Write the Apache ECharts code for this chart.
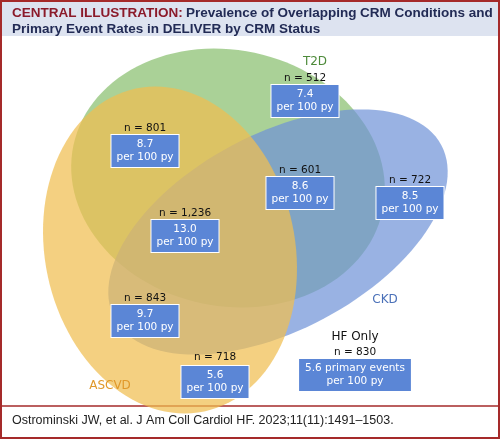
<!DOCTYPE html><html><head><meta charset="utf-8"><script src="https://cdn.jsdelivr.net/npm/echarts@6/dist/echarts.min.js"></script>
<style>body{margin:0}#c{width:500px;height:439px}</style></head><body><div id="c"></div><script>
// Sets: [cx, cy, rx, ry, rotationDeg]
const setNames=['T2D','CKD','ASCVD'];
const setShapes=[[228,178,158,128,12],[278,232,185,98,-28],[170,250,125,165,-12]];
const setColors=['rgba(125,185,95,0.65)','rgba(110,145,215,0.7)','rgba(240,190,80,0.72)'];
const regionCounts=['n = 512','n = 801','n = 601','n = 722','n = 1,236','n = 843','n = 830','n = 718'];
const regionRates=['7.4','8.7','8.6','8.5','13.0','9.7','5.6 primary events','5.6'];
const regionPos=[[305,78],[145,128],[300,170],[410,180],[185,213],[145,298],[355,352],[215,357]];
const setLabelPos=[[315,62],[385,300],[110,386]];
const setLabelColors=['#4d8a3a','#4a70b8','#e0982a'];

const ell=setShapes.map((s,i)=>({value:s,itemStyle:{color:setColors[i]}}));
const counts=regionPos.map((p,i)=>({value:p,label:{formatter:regionCounts[i]}}));
const rates=regionPos.map((p,i)=>({value:[p[0],p[1]+23],label:{formatter:regionRates[i]+'\nper 100 py',padding:i==6?[3,6]:[3,5]}}));
rates[7].value[1]=382;
const chart=echarts.init(document.getElementById('c'));
chart.setOption({
animation:false,
grid:{left:0,right:0,top:0,bottom:0},
xAxis:{type:'value',min:0,max:500,show:false},
yAxis:{type:'value',min:0,max:439,inverse:true,show:false},
graphic:[
{type:'rect',shape:{x:1,y:1,width:498,height:437},style:{fill:'#fff',stroke:'#a52a2a',lineWidth:2},z:-10},
{type:'rect',shape:{x:2,y:2,width:496,height:34},style:{fill:'#dde3f0'},z:-9},
{type:'text',left:12,top:5,style:{rich:{a:{fill:'#8b1a2a',fontWeight:'bold',fontSize:13.5,fontFamily:'Liberation Sans'},b:{fill:'#222b55',fontWeight:'bold',fontSize:13.5,fontFamily:'Liberation Sans'}},text:'{a|CENTRAL ILLUSTRATION:} {b|Prevalence of Overlapping CRM Conditions and}\n{b|Primary Event Rates in DELIVER by CRM Status}',lineHeight:16},z:10},
{type:'line',shape:{x1:2,y1:406,x2:498,y2:406},style:{stroke:'#a52a2a',lineWidth:1.5}},
{type:'text',left:12,top:414,style:{text:'Ostrominski JW, et al. J Am Coll Cardiol HF. 2023;11(11):1491–1503.',fill:'#222',fontSize:12.5,fontFamily:'Liberation Sans'}}
],
series:[
{type:'custom',data:ell,z:1,renderItem:(p,api)=>{const cx=api.value(0),cy=api.value(1),rx=api.value(2),ry=api.value(3),r=api.value(4)*Math.PI/180;const pts=[];for(let k=0;k<120;k++){const t=k/120*2*Math.PI;const x=rx*Math.cos(t),y=ry*Math.sin(t);pts.push(api.coord([cx+x*Math.cos(r)-y*Math.sin(r),cy+x*Math.sin(r)+y*Math.cos(r)]));}return{type:'polygon',shape:{points:pts},style:{fill:api.visual('color')}};}},
{type:'scatter',zlevel:1,symbolSize:1,itemStyle:{opacity:0},data:counts,label:{show:true,opacity:1,position:'inside',color:'#111',fontSize:10.5,fontFamily:'DejaVu Sans'}},
{type:'scatter',zlevel:1,symbolSize:1,itemStyle:{opacity:0},data:rates,label:{show:true,opacity:1,position:'inside',color:'#fff',fontSize:10.5,lineHeight:13,fontFamily:'DejaVu Sans',backgroundColor:'#5b86d6',borderColor:'#fff',borderWidth:1}},
{type:'scatter',zlevel:1,symbolSize:1,itemStyle:{opacity:0},data:[{value:[355,337],label:{formatter:'HF Only',fontSize:12}}],label:{show:true,opacity:1,position:'inside',color:'#111',fontFamily:'DejaVu Sans'}},
{type:'scatter',zlevel:1,symbolSize:1,itemStyle:{opacity:0},data:setLabelPos.map((p,i)=>({value:p,label:{formatter:setNames[i],color:setLabelColors[i]}})),label:{show:true,opacity:1,position:'inside',fontSize:12,fontFamily:'DejaVu Sans'}}
]});
</script></body></html>
